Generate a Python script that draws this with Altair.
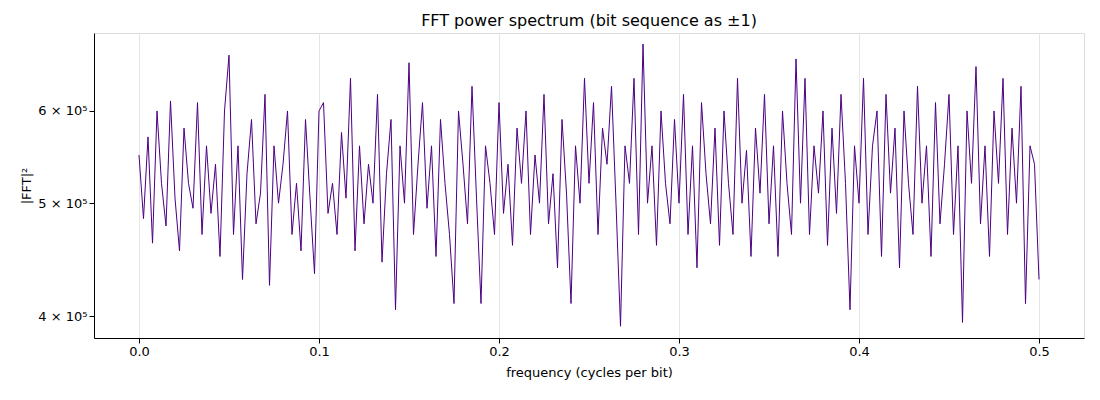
import numpy as np
import pandas as pd
import altair as alt

# power values in thousands (step 0.0025 cycles/bit)
power_k = [
    550, 485, 570, 462, 600, 520, 478, 612, 505, 455, 580, 520, 495, 610, 470, 560, 490, 540, 450, 600,
    670, 470, 560, 430, 530, 590, 480, 510, 620, 425, 560, 500, 540, 600, 470, 520, 455, 590, 505, 435,
    600, 610, 490, 520, 470, 575, 505, 640, 455, 560, 480, 540, 500, 620, 445, 530, 590, 405, 560, 500,
    660, 470, 540, 610, 495, 560, 450, 590, 520, 470, 410, 600, 540, 480, 630, 505, 410, 560, 520, 470,
    610, 490, 540, 460, 580, 520, 600, 470, 550, 500, 620, 480, 530, 440, 590, 510, 410, 560, 500, 640,
    520, 610, 470, 580, 540, 630, 500, 392, 560, 520, 640, 470, 685, 500, 560, 460, 600, 520, 480, 590,
    500, 620, 470, 560, 440, 610, 530, 480, 580, 460, 600, 520, 470, 640, 500, 555, 450, 580, 510, 620,
    480, 560, 450, 600, 520, 470, 665, 500, 640, 470, 560, 510, 600, 460, 580, 490, 620, 520, 405, 560,
    500, 640, 470, 560, 600, 450, 620, 510, 580, 440, 600, 520, 470, 630, 500, 560, 450, 610, 480, 540,
    620, 470, 560, 395, 600, 520, 655, 480, 560, 450, 600, 520, 640, 470, 580, 500, 630, 410, 560, 540,
    430,
]
freq = np.linspace(0, 0.5, len(power_k))

df = pd.DataFrame({"freq": freq, "power": [p * 1000 for p in power_k]})

font = "DejaVu Sans"

chart = (
    alt.Chart(df)
    .mark_line(color="#4b0082", strokeWidth=1, clip=True)
    .encode(
        x=alt.X("freq:Q", title="frequency (cycles per bit)",
                scale=alt.Scale(domain=[-0.025, 0.525], nice=False, zero=False),
                axis=alt.Axis(values=[0, 0.1, 0.2, 0.3, 0.4, 0.5], format=".1f",
                              grid=True, gridColor="#e6e6e6", domainColor="black",
                              tickColor="black", labelColor="black", labelFontSize=13,
                              titleFontSize=13, titleFontWeight="normal", titlePadding=8,
                              labelFont=font, titleFont=font)),
        y=alt.Y("power:Q", title="|FFT|²",
                scale=alt.Scale(type="log", domain=[383000, 700000], nice=False),
                axis=alt.Axis(values=[400000, 500000, 600000],
                              labelExpr="floor(datum.value / 100000) + ' × 10⁵'",
                              grid=False, domainColor="black", tickColor="black",
                              labelColor="black", labelFontSize=13, titleFontSize=13,
                              titleFontWeight="normal", labelFont=font, titleFont=font)),
    )
    .properties(
        width=990, height=305,
        padding={"left": 12, "top": 5, "right": 5, "bottom": 5},
        title=alt.TitleParams("FFT power spectrum (bit sequence as ±1)", font=font,
                              fontSize=16, fontWeight="normal", color="black"),
    )
    .configure_view(strokeWidth=0)
    .configure(background="white")
)

chart.save("out.html", embed_options={"renderer": "svg", "actions": False})
